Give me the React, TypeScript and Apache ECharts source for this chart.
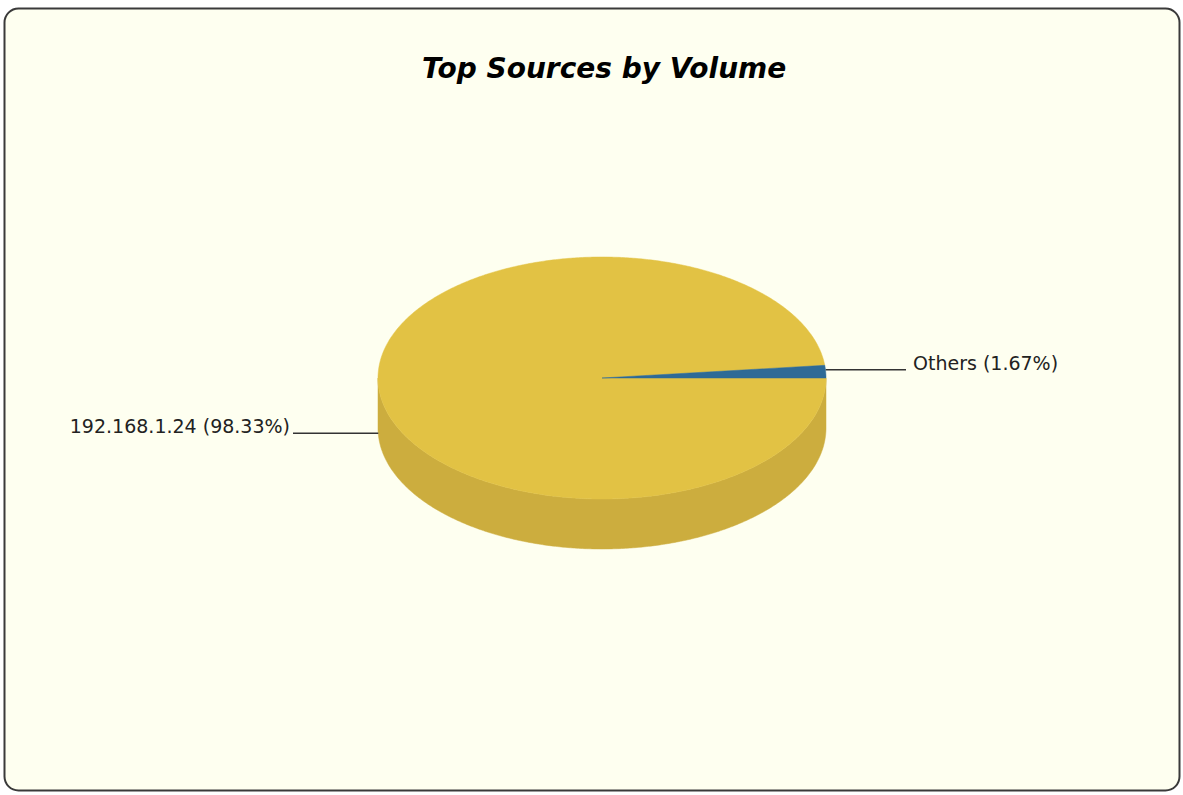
import React, { useEffect, useRef } from "react";
import * as echarts from "echarts";

const titleText = "Top Sources by Volume";
const categories = ["192.168.1.24", "Others"];
const values = [98.33, 1.67];
const percentLabels = ["98.33%", "1.67%"];
const topColors = ["#E2C244", "#2E6A96"];
const sideColors = ["#CCAD3E", "#285D85"];

export default function App() {
  const ref = useRef<HTMLDivElement>(null);
  useEffect(() => {
    const chart = echarts.init(ref.current!, null, { renderer: "svg" });
    const CX = 602, CY = 378, RX = 224, RY = 121, DEPTH = 50;
    const total = values.reduce((a, b) => a + b, 0);
    const deg = Math.PI / 180;
    const pt = (t: number, dy = 0) => [CX + RX * Math.cos(t), CY - RY * Math.sin(t) + dy];

    const renderItem = (params: any, api: any) => {
      const idx = params.dataIndex;
      const v = api.value(1);
      let before = 0;
      for (let i = 0; i < idx; i++) before += values[i];
      const t0 = -(before / total) * 2 * Math.PI;
      const t1 = -((before + v) / total) * 2 * Math.PI;
      const lo = Math.min(t0, t1), hi = Math.max(t0, t1);
      const children: any[] = [];
      // sides (front only)
      for (let k = -2; k <= 1; k++) {
        const a = Math.max(lo, k * 2 * Math.PI - Math.PI);
        const b = Math.min(hi, k * 2 * Math.PI);
        if (b - a > 1e-6) {
          const n = Math.max(4, Math.ceil((b - a) / deg) * 2);
          const pts: number[][] = [];
          for (let j = 0; j <= n; j++) pts.push(pt(a + ((b - a) * j) / n));
          for (let j = n; j >= 0; j--) pts.push(pt(a + ((b - a) * j) / n, DEPTH));
          children.push({
            type: "polygon",
            z2: 1,
            shape: { points: pts },
            style: { fill: sideColors[idx], stroke: sideColors[idx], lineWidth: 0.5 },
          });
        }
      }
      // top face
      const n = Math.max(4, Math.ceil((hi - lo) / deg) * 2);
      const top: number[][] = [[CX, CY]];
      for (let j = 0; j <= n; j++) top.push(pt(lo + ((hi - lo) * j) / n));
      children.push({
        type: "polygon",
        z2: 10,
        shape: { points: top },
        style: { fill: topColors[idx], stroke: topColors[idx], lineWidth: 0.5 },
      });
      // label
      const m = (t0 + t1) / 2;
      const s = Math.sin(m), c = Math.cos(m);
      const [ax, ay0] = pt(m);
      const ay = ay0 + (s < 0 ? DEPTH - 1 : -2);
      const right = c >= 0;
      const ex = right ? CX + RX + 80 : CX - RX - 85;
      children.push({
        type: "line",
        z2: 20,
        shape: { x1: ax, y1: ay, x2: ex, y2: ay },
        style: { stroke: "#333", lineWidth: 1.5 },
      });
      children.push({
        type: "text",
        z2: 20,
        style: {
          x: right ? ex + 7 : ex - 3,
          y: ay - 7,
          text: `${categories[idx]} (${percentLabels[idx]})`,
          align: right ? "left" : "right",
          verticalAlign: "middle",
          fill: "#222",
          fontSize: 19,
          fontFamily: "DejaVu Sans",
        },
      });
      return { type: "group", children };
    };

    chart.setOption({
      animation: false,
      backgroundColor: "#ffffff",
      title: {
        text: titleText,
        left: 417,
        top: 49,
        textStyle: {
          fontSize: 28,
          fontWeight: "bold",
          fontStyle: "italic",
          fontFamily: "DejaVu Sans",
          color: "#000",
        },
      },
      graphic: [
        {
          type: "rect",
          z: -10,
          silent: true,
          shape: { x: 4.5, y: 8.5, width: 1175, height: 782, r: 14 },
          style: { fill: "#FEFFF0", stroke: "#3a3a3a", lineWidth: 2 },
        },
      ],
      series: [
        {
          type: "custom",
          coordinateSystem: "none",
          renderItem,
          data: values.map((v, i) => ({ name: categories[i], value: [i, v] })),
        },
      ],
    });
    return () => chart.dispose();
  }, []);
  return (
    <div
      ref={ref}
      style={{ position: "absolute", left: 0, top: 0, width: 1183, height: 795 }}
    />
  );
}
